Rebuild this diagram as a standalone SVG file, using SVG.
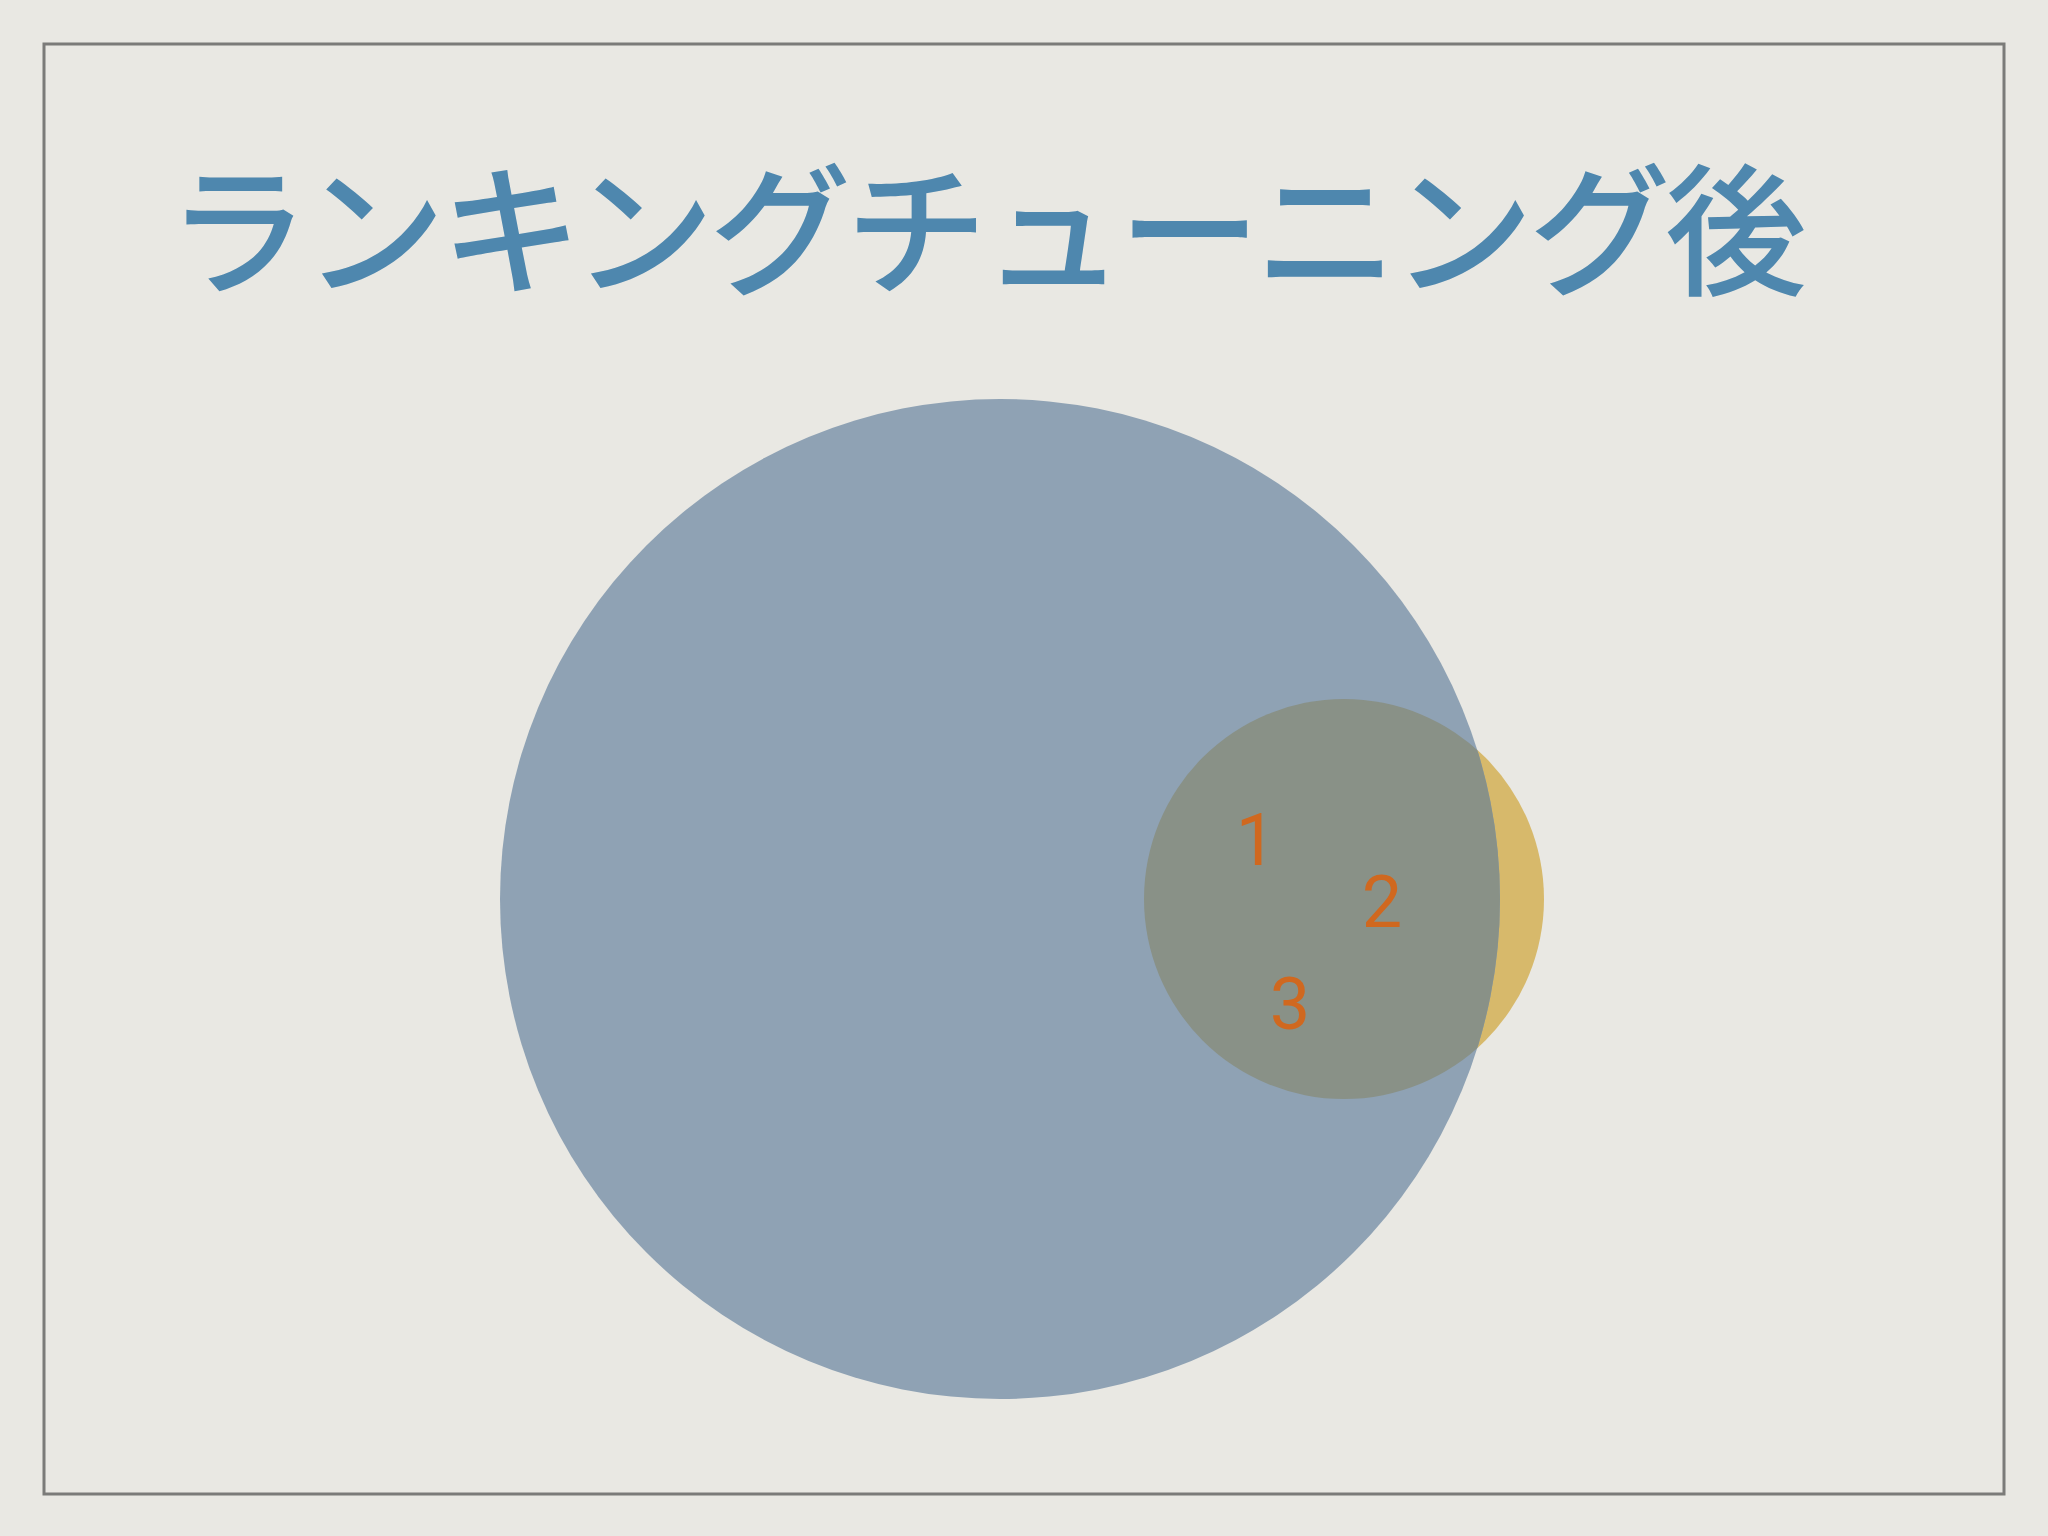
<svg xmlns="http://www.w3.org/2000/svg" width="2048" height="1536" viewBox="0 0 2048 1536">
<style>
.title{font-family:"Noto Sans CJK JP","Noto Sans",sans-serif;font-size:142px;font-weight:500;fill:#4e87ae}
.num{font-size:72px;fill:#d0681f;text-anchor:middle}
</style>
<defs>
<clipPath id="bigclip"><circle cx="1000" cy="899" r="500"/></clipPath>
</defs>
<rect width="2048" height="1536" fill="#e9e8e3"/>
<rect x="44" y="44" width="1960" height="1450" fill="none" stroke="#7b7b79" stroke-width="3"/>
<g id="title"><text class="title" x="167" y="284" textLength="1640" lengthAdjust="spacing">ランキングチューニング後</text></g>
<g id="yellow"><circle cx="1344" cy="899" r="200" fill="#d7b96b"/></g>
<g id="blue"><circle cx="1000" cy="899" r="500" fill="#8fa2b4"/></g>
<g id="overlap"><circle cx="1344" cy="899" r="200" fill="#899187" clip-path="url(#bigclip)"/></g>
<g id="labels" font-family="Roboto, 'Liberation Sans', sans-serif">
<text class="num" x="1256" y="865">1</text>
<text class="num" x="1382" y="927">2</text>
<text class="num" x="1290" y="1029">3</text>
</g>
</svg>
